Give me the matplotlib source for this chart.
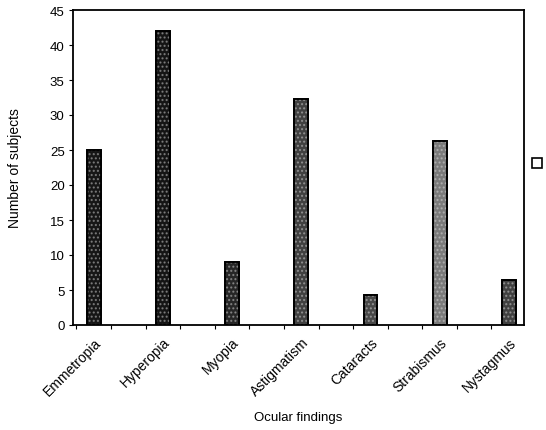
import matplotlib
matplotlib.use('Agg')
from matplotlib import pyplot as plt
from matplotlib import ticker, patches
import numpy as np

plt.rcParams['font.family'] = ['Liberation Sans', 'DejaVu Sans']

findings = ['Emmetropia', 'Hyperopia', 'Myopia', 'Astigmatism',
            'Cataracts', 'Strabismus', 'Nystagmus']
subjects = [25, 42, 9, 32.3, 4.3, 26.3, 6.4]
shades = ['#161616', '#141414', '#262626', '#404040', '#484848', '#7a7a7a', '#404040']

fig = plt.figure(figsize=(5.46, 4.31), dpi=100)
ax = fig.add_axes([73/546, 1-326/431, (524-73)/546, (326-11)/431])

x = np.arange(len(findings))
ax.bar(x, subjects, width=0.2, color=shades, edgecolor='black', linewidth=1.3, zorder=2)
# speckled texture on top of the fills
ax.bar(x, subjects, width=0.2, facecolor='none', edgecolor='#dddddd',
       linewidth=0, hatch='....', alpha=0.45, zorder=3)
ax.bar(x, subjects, width=0.2, facecolor='none', edgecolor='black', linewidth=1.3, zorder=4)

ax.set_xlim(-0.3, 6.22)
ax.set_ylim(0, 45)
ax.yaxis.set_major_locator(ticker.MultipleLocator(5))
ax.set_xticks(x)
ax.set_xticklabels(findings, rotation=45, ha='right', rotation_mode='anchor', fontsize=10)
ax.xaxis.set_minor_locator(ticker.FixedLocator(np.arange(-0.25, 6.3, 0.5)))
ax.tick_params(axis='x', which='major', length=0, pad=7)
ax.tick_params(axis='x', which='minor', length=3, direction='out', width=0.8)
ax.tick_params(axis='y', length=3, width=0.8, labelsize=9.5, pad=3)

for s in ax.spines.values():
    s.set_linewidth(1.3)

ax.set_ylabel('Number of subjects', fontsize=10, labelpad=20)
ax.set_xlabel('Ocular findings', fontsize=9.5, labelpad=9)

fig.legend(handles=[patches.Patch(facecolor='white', edgecolor='black', linewidth=1.2)],
           labels=[''], loc='center', bbox_to_anchor=(537/546, 1-165/431),
           frameon=False, handlelength=0.7, handleheight=0.7, handletextpad=0)

fig.savefig('out.png', dpi=100)
